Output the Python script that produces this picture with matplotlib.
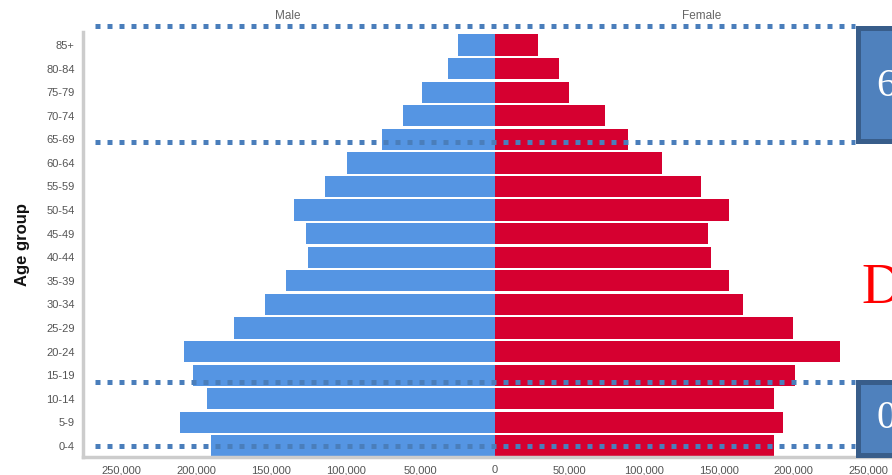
import matplotlib
matplotlib.use("Agg")
import matplotlib.pyplot as plt
from matplotlib.lines import Line2D
from matplotlib.patches import Rectangle
import numpy as np

age_groups = ["0-4", "5-9", "10-14", "15-19", "20-24", "25-29", "30-34", "35-39",
              "40-44", "45-49", "50-54", "55-59", "60-64", "65-69", "70-74",
              "75-79", "80-84", "85+"]
male = [190000, 211000, 193000, 202000, 208000, 175000, 154000, 140000,
        125000, 126500, 134500, 114000, 99000, 75500, 61500, 49000, 31500, 25000]
female = [187000, 193000, 187000, 201000, 231000, 200000, 166500, 157000,
          144500, 142500, 157000, 138000, 112000, 89000, 73500, 49500, 42800, 28800]
xticks = [-250000, -200000, -150000, -100000, -50000, 0, 50000, 100000, 150000, 200000, 250000]

W, H = 892, 475
fig = plt.figure(figsize=(W / 100, H / 100), dpi=100)
ax = fig.add_axes([83 / W, (H - 457) / H, (W - 83) / W, (457 - 32) / H])

y = np.arange(len(age_groups))
ax.barh(y, [-m for m in male], height=0.9, color="#5595e3", edgecolor="none")
ax.barh(y, female, height=0.9, color="#d60030", edgecolor="none")

ax.set_xlim(-276000, 266000)
ax.set_ylim(-0.47, 17.55)
ax.set_yticks(y)
ax.set_yticklabels(age_groups, fontsize=8, color="#555555", family="Liberation Sans")
ax.set_xticks(xticks)
ax.set_xticklabels([f"{abs(v):,}" for v in xticks], fontsize=8, color="#555555",
                   family="Liberation Sans")
ax.tick_params(length=0, pad=6)
for s in ["top", "right"]:
    ax.spines[s].set_visible(False)
for s in ["left", "bottom"]:
    ax.spines[s].set_color("#cccccc")
    ax.spines[s].set_linewidth(2.5)

fig.text(23 / W, 1 - 244 / H, "Age group", rotation=90, ha="center", va="center",
         fontsize=12, fontweight="bold", color="#111111", family="Liberation Sans")
fig.text(288 / W, 1 - 16 / H, "Male", ha="center", va="center", fontsize=8.5,
         color="#666666", family="Liberation Sans")
fig.text(702 / W, 1 - 16 / H, "Female", ha="center", va="center", fontsize=8.5,
         color="#666666", family="Liberation Sans")

# overlay dotted lines
for yy in [26, 142, 382, 446]:
    fig.add_artist(Line2D([95 / W, 855 / W], [1 - yy / H, 1 - yy / H],
                          transform=fig.transFigure, color="#4a7ebb",
                          linewidth=3.6, linestyle=(0, (1, 1.4)),
                          dash_capstyle="butt", zorder=10))

# overlay boxes
for (y0, y1) in [(25, 143), (379, 457)]:
    fig.add_artist(Rectangle((857.5 / W, 1 - (y1 - 2.5) / H), 60 / W, (y1 - y0 - 5) / H,
                             transform=fig.transFigure, facecolor="#4f81bd",
                             edgecolor="#385d8a", linewidth=3.6, zorder=11))

fig.text(876 / W, 1 - 87 / H, "6", ha="left", va="center", fontsize=29,
         color="white", family="Liberation Serif", zorder=12)
fig.text(876 / W, 1 - 418 / H, "0", ha="left", va="center", fontsize=29,
         color="white", family="Liberation Serif", zorder=12)
fig.text(861 / W, 1 - 289 / H, "D", ha="left", va="center", fontsize=40,
         color="#ff0000", family="Liberation Serif", zorder=12)

fig.savefig("out.png", dpi=100)
